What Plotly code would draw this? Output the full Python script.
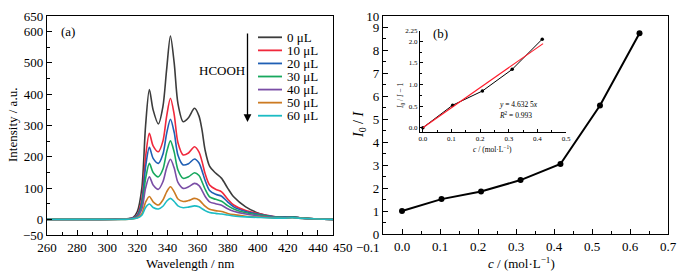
import plotly.graph_objects as go

W, H = 686, 274
FONT = "Liberation Serif"

# ---------------- data: panel (a) ----------------
wavelength = [260, 290, 312, 317, 320, 323, 325.5, 328, 330.5, 334, 337, 339.5, 342, 344.5, 347,
              350.5, 354, 358, 361, 363, 365, 368, 372, 376, 380, 384, 392, 401, 412, 418, 423,
              430, 440, 450]
int_0uL = [0, 0, 1, 5, 25, 100, 300, 415, 350, 305, 360, 480, 586, 500, 370, 312, 325, 355, 330,
           285, 222, 170, 148, 131, 100, 72, 40, 19, 7, 7, 8, 4, 1, 0]
int_10uL = [0, 0, 1, 4, 15, 65, 200, 275, 235, 216, 250, 330, 387, 335, 245, 206, 212, 232, 215,
            185, 147, 110, 96, 88, 65, 46, 28, 18, 8, 7, 8, 4, 1, 0]
int_20uL = [0, 0, 1, 4, 13, 55, 168, 230, 195, 179, 208, 275, 320, 278, 205, 174, 178, 193, 180,
            155, 125, 92, 80, 74, 56, 40, 25, 16, 8, 7, 8, 4, 1, 0]
int_30uL = [0, 0, 1, 3, 10, 43, 130, 179, 150, 136, 160, 215, 251, 215, 158, 131, 136, 149, 140,
            120, 97, 72, 64, 58, 44, 33, 21, 14, 7, 6, 7, 4, 1, 0]
int_40uL = [0, 0, 1, 3, 8, 33, 100, 136, 110, 96, 120, 165, 192, 164, 118, 99, 104, 115, 108, 92,
            74, 56, 50, 45, 34, 26, 17, 11, 6, 5, 6, 3, 1, 0]
int_50uL = [0, 0, 0, 2, 5, 18, 55, 73, 56, 46, 62, 88, 104, 88, 65, 57, 60, 67, 62, 52, 42, 32, 28,
            25, 19, 15, 10, 7, 4, 4, 5, 3, 1, 0]
int_60uL = [0, 0, 0, 2, 4, 13, 38, 49, 38, 33, 42, 58, 67, 57, 43, 37, 39, 43, 40, 34, 28, 22, 19,
            17, 14, 11, 8, 6, 4, 4, 5, 3, 1, 0]
series_names = ["0 μL", "10 μL", "20 μL", "30 μL", "40 μL", "50 μL", "60 μL"]
series_values = [int_0uL, int_10uL, int_20uL, int_30uL, int_40uL, int_50uL, int_60uL]
series_colors = ["#3c3c3c", "#f0283c", "#1f5fb4", "#18a85e", "#7a4ea6", "#cc7a22", "#1cbcc4"]
x_ticks_a = [260, 280, 300, 320, 340, 360, 380, 400, 420, 440]
y_ticks_a = [-50, 0, 100, 200, 300, 400, 500, 600, 650]
y_ticktext_a = ["−50", "0", "100", "200", "300", "400", "500", "600", "650"]

# ---------------- data: panel (b) ----------------
conc = [0, 0.104, 0.208, 0.312, 0.417, 0.521, 0.625]
ratio = [1.0, 1.52, 1.85, 2.35, 3.05, 5.6, 8.75]
inset_conc = [0, 0.104, 0.208, 0.312, 0.417]
inset_val = [0, 0.52, 0.85, 1.35, 2.05]
fit_conc = [0, 0.42]
fit_val = [0, 1.946]
x_ticks_b = [0, 0.1, 0.2, 0.3, 0.4, 0.5, 0.6, 0.7]
x_ticktext_b = ["0.0", "0.1", "0.2", "0.3", "0.4", "0.5", "0.6", "0.7"]
y_ticks_b = [0, 1, 2, 3, 4, 5, 6, 7, 8, 9, 9.5]
y_ticktext_b = ["0", "1", "2", "3", "4", "5", "6", "7", "8", "9", "10"]
x_ticks_in = [0, 0.1, 0.2, 0.3, 0.4, 0.5]
x_ticktext_in = ["0.0", "0.1", "0.2", "0.3", "0.4", "0.5"]
y_ticks_in = [0, 0.5, 1.0, 1.5, 2.0, 2.25]
y_ticktext_in = ["0.0", "0.5", "1.0", "1.5", "2.0", "2.25"]


def px(x):
    return x / W


def py(y):
    return 1 - y / H


fig = go.Figure()

for name, vals, col in zip(series_names, series_values, series_colors):
    fig.add_trace(go.Scatter(x=wavelength, y=vals, mode="lines", name=name,
                             line=dict(color=col, width=1.6, shape="spline", smoothing=0.8),
                             xaxis="x", yaxis="y", showlegend=False))

fig.add_trace(go.Scatter(x=conc, y=ratio, mode="lines+markers",
                         line=dict(color="black", width=2),
                         marker=dict(color="black", size=6),
                         xaxis="x2", yaxis="y2", showlegend=False))
fig.add_trace(go.Scatter(x=inset_conc, y=inset_val, mode="lines+markers",
                         line=dict(color="black", width=1),
                         marker=dict(color="black", size=3.5),
                         xaxis="x3", yaxis="y3", showlegend=False))
fig.add_trace(go.Scatter(x=fit_conc, y=fit_val, mode="lines",
                         line=dict(color="#ff1a2a", width=1.1),
                         xaxis="x3", yaxis="y3", showlegend=False))

axis_common = dict(showgrid=False, zeroline=False, showline=True, linecolor="black",
                   linewidth=1.3, ticks="inside", tickcolor="black", tickwidth=1.2,
                   tickangle=0, automargin=False,
                   tickfont=dict(family=FONT, size=13, color="black"))
inset_common = dict(showgrid=False, zeroline=False, showline=True, linecolor="black",
                    linewidth=1, ticks="inside", ticklen=3, tickcolor="black", tickwidth=0.8,
                    tickangle=0, automargin=False,
                    tickfont=dict(family=FONT, size=7, color="black"))

fig.update_layout(
    width=W, height=H, autosize=False,
    margin=dict(l=0, r=0, t=0, b=0, pad=0),
    paper_bgcolor="white", plot_bgcolor="rgba(0,0,0,0)",
    font=dict(family=FONT, color="black"),
    xaxis=dict(axis_common, domain=[px(47), px(333)], range=[260, 450], anchor="y",
               mirror=True, tickmode="array", tickvals=x_ticks_a, ticklen=5,
               minor=dict(tickmode="linear", tick0=250, dtick=20, ticks="inside", ticklen=3,
                          tickcolor="black", showgrid=False)),
    yaxis=dict(axis_common, domain=[py(235), py(16)], range=[-50, 650], anchor="x",
               mirror=True, tickmode="array", tickvals=y_ticks_a, ticktext=y_ticktext_a,
               ticklen=5,
               minor=dict(tickmode="linear", tick0=50, dtick=100, ticks="inside", ticklen=3,
                          tickcolor="black", showgrid=False)),
    xaxis2=dict(axis_common, domain=[px(383), px(668)], range=[-0.05, 0.7], anchor="y2",
                mirror=True, tickmode="array", tickvals=x_ticks_b, ticktext=x_ticktext_b,
                ticklen=5,
                minor=dict(tickmode="linear", tick0=0.05, dtick=0.1, ticks="inside", ticklen=3,
                           tickcolor="black", showgrid=False)),
    yaxis2=dict(axis_common, domain=[py(234), py(16)], range=[0, 9.5], anchor="x2",
                mirror=True, tickmode="array", tickvals=y_ticks_b, ticktext=y_ticktext_b,
                ticklen=5,
                minor=dict(tickmode="linear", tick0=0.5, dtick=1, ticks="inside", ticklen=3,
                           tickcolor="black", showgrid=False)),
    xaxis3=dict(inset_common, domain=[px(420), px(566)], range=[-0.01, 0.5], anchor="y3",
                tickmode="array", tickvals=x_ticks_in, ticktext=x_ticktext_in,
                minor=dict(tickmode="linear", tick0=0.05, dtick=0.1, ticks="inside", ticklen=2,
                           tickcolor="black", showgrid=False)),
    yaxis3=dict(inset_common, domain=[py(132), py(30.5)], range=[-0.1, 2.25], anchor="x3",
                tickmode="array", tickvals=y_ticks_in, ticktext=y_ticktext_in,
                minor=dict(tickmode="linear", tick0=0.25, dtick=0.5, ticks="inside", ticklen=2,
                           tickcolor="black", showgrid=False)),
)

annotations = []
shapes = []


def note(text, x, y, size=13, angle=0, xanchor="center", yanchor="middle"):
    annotations.append(dict(text=text, x=px(x), y=py(y), xref="paper", yref="paper",
                            showarrow=False, textangle=angle, xanchor=xanchor,
                            yanchor=yanchor, font=dict(family=FONT, size=size, color="black")))


# axis titles
note("Intensity / a.u.", 12, 125, angle=-90)
note("Wavelength / nm", 190, 263)
note("<i>I</i><sub>0</sub> / <i>I</i>", 359, 125, size=14, angle=-90)
note("<i>c</i> / (mol·L<sup>−1</sup>)", 521, 263)
note("−0.1", 382, 247, xanchor="right")
note("450", 331, 247, xanchor="left")
# inset titles
note("<i>I</i><sub>0</sub> / <i>I</i> − 1", 401, 96, size=7.5, angle=-90)
note("<i>c</i> / (mol·L<sup>−1</sup>)", 492, 149, size=7.5)
note("<i>y</i> = 4.632 5<i>x</i>", 497, 104, size=7.5, xanchor="left")
note("<i>R</i><sup>2</sup> = 0.993", 497, 115, size=7.5, xanchor="left")
# panel labels
note("(a)", 68, 31)
note("(b)", 440, 33)
note("HCOOH", 222, 71)

# arrow
annotations.append(dict(text="", x=px(247.5), y=py(122), xref="paper", yref="paper",
                        ax=0, ay=-90, axref="pixel", ayref="pixel", showarrow=True,
                        arrowhead=2, arrowsize=1.2, arrowwidth=1.3, arrowcolor="black"))

# legend (manual)
for i, (name, col) in enumerate(zip(series_names, series_colors)):
    yy = 37.3 + 13.07 * i
    shapes.append(dict(type="line", xref="paper", yref="paper", x0=px(258), x1=px(282),
                       y0=py(yy), y1=py(yy), line=dict(color=col, width=1.8)))
    note(name, 285, yy, xanchor="left")

fig.update_layout(annotations=annotations, shapes=shapes)
fig.write_html("out.html", config=dict(displayModeBar=False, responsive=False),
               post_script="document.body.style.margin='0px';")
